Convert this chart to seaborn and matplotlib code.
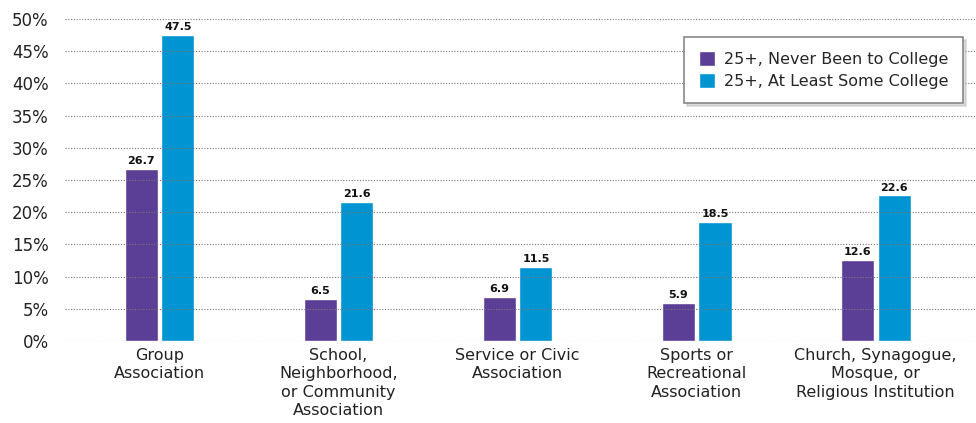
import matplotlib
matplotlib.use("Agg")
import matplotlib.pyplot as plt
import seaborn as sns
import pandas as pd

categories = ["Group\nAssociation", "School,\nNeighborhood,\nor Community\nAssociation",
              "Service or Civic\nAssociation", "Sports or\nRecreational\nAssociation",
              "Church, Synagogue,\nMosque, or\nReligious Institution"]
series_names = ["25+, Never Been to College", "25+, At Least Some College"]
never_college = [26.7, 6.5, 6.9, 5.9, 12.6]
some_college = [47.5, 21.6, 11.5, 18.5, 22.6]
y_ticks = [0, 5, 10, 15, 20, 25, 30, 35, 40, 45, 50]
y_tick_labels = [f"{t}%" for t in y_ticks]
colors = ["#5B3E96", "#0094D2"]

sns.set_theme(style="white")
plt.rcParams["font.family"] = ["DejaVu Sans"]

df = pd.DataFrame({
    "category": categories * 2,
    "series": [series_names[0]] * 5 + [series_names[1]] * 5,
    "value": never_college + some_college,
})

fig = plt.figure(figsize=(9.76, 4.23), dpi=100)
ax = fig.add_axes([0.067, 0.194, 0.933, 0.761])
sns.barplot(data=df, x="category", y="value", hue="series", palette=colors,
            width=0.41, gap=0.1, ax=ax, saturation=1, legend=True)

for cont in ax.containers:
    ax.bar_label(cont, fmt="%.1f", padding=2, fontsize=8, fontweight="bold",
                 color="#111111")

ax.set_ylim(0, 50)
ax.set_xlim(-0.525, 4.56)
ax.set_yticks(y_ticks)
ax.set_yticklabels(y_tick_labels, fontsize=12, color="#222222")
ax.tick_params(axis="x", labelsize=11.5, colors="#222222", length=0, pad=5)
ax.tick_params(axis="y", length=0, pad=12)
for lbl in ax.get_xticklabels():
    lbl.set_linespacing(1.28)
ax.set_xlabel("")
ax.set_ylabel("")
ax.yaxis.grid(True, linestyle=(0, (1, 1.5)), color="#777777", linewidth=0.8)
ax.set_axisbelow(False)
for s in ax.spines.values():
    s.set_visible(False)

leg = ax.legend(loc="upper right", bbox_to_anchor=(0.986, 0.944), borderaxespad=0,
                fontsize=11.5, frameon=True, fancybox=False,
                shadow={"color": "#bbbbbb", "ox": 2, "oy": -2},
                edgecolor="#888888",
                handlelength=1.0, handleheight=1.0, handletextpad=0.6,
                borderpad=0.9, labelspacing=0.4)
leg.get_frame().set_linewidth(1.2)

fig.savefig("out.png", dpi=100)
